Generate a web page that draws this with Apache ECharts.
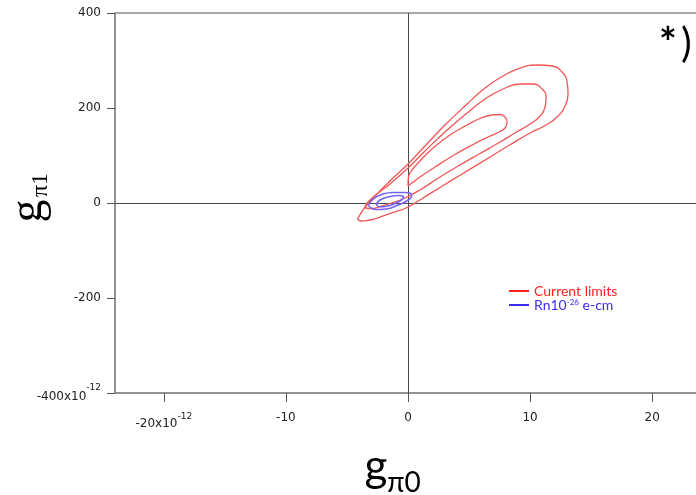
<!DOCTYPE html>
<html>
<head>
<meta charset="utf-8">
<script src="https://cdn.jsdelivr.net/npm/echarts@6/dist/echarts.min.js"></script>
<style>
  html, body { margin: 0; padding: 0; background: #fff; }
  #chart { width: 696px; height: 495px; }
</style>
</head>
<body>
<div id="chart"></div>
<script>
// Allowed regions in the (g_pi0, g_pi1) coupling plane, in units of 1e-12.

const xTicks = [-20, -10, 0, 10, 20];
const yTicks = [-400, -200, 0, 200, 400];

// Present limits: three nested contours, each a closed loop of [g_pi0, g_pi1]
const currentLimitsOuter = [
  [-4.14, -33.7], [-3.85, -21.1], [-3.44, -6.3], [-2.70, 14.7], [-1.48, 46.3],
  [0.00, 82.1], [1.39, 120.0], [3.03, 164.2], [4.84, 208.4], [6.31, 242.1],
  [7.79, 267.4], [9.18, 284.2], [10.66, 290.5], [11.80, 288.4], [12.62, 275.8],
  [13.03, 254.7], [13.11, 229.5], [12.87, 204.2], [12.30, 183.2], [11.31, 164.2],
  [10.00, 147.4], [8.36, 122.5], [6.72, 96.8], [5.08, 71.2], [3.44, 45.5],
  [1.80, 19.8], [0.00, -8.4], [-1.07, -18.9], [-2.30, -29.5], [-3.28, -36.8],
  [-3.85, -37.9], [-4.14, -33.7]
];
const currentLimitsMiddle = [
  [-3.52, -7.4], [-3.20, 4.2], [-2.54, 18.9], [-1.48, 40.0], [0.00, 73.7],
  [1.39, 109.5], [3.03, 149.5], [4.84, 189.5], [6.31, 218.9], [7.79, 240.0],
  [9.18, 250.5], [10.25, 250.5], [10.98, 240.0], [11.31, 223.2], [11.23, 202.1],
  [10.82, 183.2], [10.00, 166.3], [8.77, 147.4], [7.54, 128.4], [5.90, 104.2],
  [4.26, 80.0], [2.62, 54.7], [0.98, 27.4], [-0.25, 10.5], [-1.31, 0.0],
  [-2.30, -7.4], [-2.95, -11.6], [-3.44, -10.5], [-3.52, -7.4]
];
const currentLimitsInner = [
  [0.00, 35.8], [0.02, 50.5], [0.16, 63.2], [0.98, 88.4], [2.05, 115.8],
  [3.44, 143.2], [4.84, 164.2], [5.90, 177.9], [6.89, 185.3], [7.54, 186.3],
  [7.95, 181.1], [8.11, 170.5], [7.95, 157.9], [7.46, 149.5], [6.56, 138.9],
  [5.25, 122.1], [3.85, 102.1], [2.21, 75.8], [0.98, 54.7], [0.16, 38.9],
  [0.00, 35.8]
];

// Projected reach of a radon EDM at the 1e-26 e-cm level
const radonOuter = [
  [-3.25, -5.3], [-2.87, 8.4], [-2.05, 18.9], [-1.23, 22.1], [-0.25, 22.1],
  [0.30, 16.8], [0.08, 7.4], [-0.82, -4.2], [-1.80, -12.6], [-2.62, -13.7],
  [-3.25, -5.3]
];
const radonInner = [
  [-2.62, -3.2], [-2.30, 6.3], [-1.48, 13.7], [-0.74, 15.8], [-0.37, 12.6],
  [-0.66, 4.2], [-1.48, -5.3], [-2.21, -8.4], [-2.62, -3.2]
];

const RED = '#f25555';
const BLUE = '#7462f4';
const LIMITS = 'Current limits';
const RADON = 'Rn10-26 e-cm';

function contour(name, data, color, width) {
  return {
    name: name,
    type: 'line',
    data: data,
    smooth: 0.5,
    symbol: 'none',
    silent: true,
    lineStyle: { color: color, width: width },
    itemStyle: { color: color },
    z: 3
  };
}

const labelFont = { fontFamily: 'DejaVu Sans', fontSize: 12, color: '#222' };

const series = [
  contour(LIMITS, currentLimitsOuter, RED, 1.3),
  contour(LIMITS, currentLimitsMiddle, RED, 1.3),
  contour(LIMITS, currentLimitsInner, RED, 1.3),
  contour(RADON, radonOuter, BLUE, 1.6),
  contour(RADON, radonInner, BLUE, 1.6)
];
// zero lines through the origin
series[0].markLine = {
  silent: true,
  symbol: 'none',
  label: { show: false },
  lineStyle: { color: '#4a4a4a', width: 1, type: 'solid' },
  data: [{ xAxis: 0 }, { yAxis: 0 }],
  z: 2
};

const chart = echarts.init(document.getElementById('chart'), null, { renderer: 'canvas' });
chart.setOption({
  animation: false,
  backgroundColor: '#fff',
  grid: {
    left: 115, top: 13, width: 586, bottom: 102,
    outerBoundsMode: 'none',
    containLabel: false,
    show: true, borderColor: '#8c8c8c', borderWidth: 1.5
  },
  xAxis: {
    type: 'value',
    min: -24, max: 24,
    axisLine: { onZero: false, lineStyle: { color: '#8c8c8c', width: 1.5 } },
    axisTick: { show: true, length: 9, customValues: xTicks, lineStyle: { color: '#555', width: 1 } },
    axisLabel: {
      customValues: xTicks,
      margin: 19,
      ...labelFont,
      formatter: v => v === -20 ? '{b|-20x10}{s|-12}' : String(v),
      rich: {
        b: { ...labelFont, padding: [6, 0, 0, 0] },
        s: { fontFamily: 'DejaVu Sans', fontSize: 9, color: '#222', verticalAlign: 'top' }
      }
    },
    splitLine: { show: false }
  },
  yAxis: {
    type: 'value',
    min: -400, max: 400, interval: 200,
    axisLine: { onZero: false, lineStyle: { color: '#8c8c8c', width: 1.5 } },
    axisTick: { show: true, length: 8, lineStyle: { color: '#555', width: 1 } },
    axisLabel: {
      margin: 14,
      ...labelFont,
      formatter: v => v === -400 ? '{b|-400x10}{s|-12}' : String(v),
      rich: {
        b: { ...labelFont, padding: [8, 0, 0, 0] },
        s: { fontFamily: 'DejaVu Sans', fontSize: 9, color: '#222', verticalAlign: 'top' }
      }
    },
    splitLine: { show: false }
  },
  legend: {
    orient: 'vertical',
    left: 509, top: 284, padding: 0,
    itemWidth: 20, itemHeight: 2, itemGap: 0,
    icon: 'rect',
    selectedMode: false,
    textStyle: { fontFamily: 'Lato', fontSize: 14, lineHeight: 14,
      rich: {
        t: { fontFamily: 'Lato', fontSize: 14, color: '#3a2cf2', lineHeight: 14 },
        s: { fontFamily: 'Lato', fontSize: 8, color: '#3a2cf2', verticalAlign: 'top', lineHeight: 14 }
      }
    },
    formatter: name => name === RADON ? '{t|Rn10}{s|-26}{t| e-cm}' : name,
    data: [
      { name: LIMITS, itemStyle: { color: '#ff2222' }, textStyle: { color: '#ff2222' } },
      { name: RADON, itemStyle: { color: '#3a2cf2' }, textStyle: { color: '#3a2cf2' } }
    ]
  },
  graphic: [
    // vertical axis title g_pi1
    { type: 'text', x: 29, y: 211, rotation: Math.PI / 2, silent: true,
      style: { text: 'g', font: '46px "Liberation Serif"', fill: '#000', align: 'center', verticalAlign: 'middle' } },
    { type: 'text', x: 41, y: 185, rotation: Math.PI / 2, silent: true,
      style: { text: 'π1', font: '24px "Liberation Serif"', fill: '#000', align: 'center', verticalAlign: 'middle' } },
    // horizontal axis title g_pi0
    { type: 'text', x: 376, y: 467, silent: true,
      style: { text: 'g', font: '44px Lato', fill: '#000', align: 'center', verticalAlign: 'middle' } },
    { type: 'text', x: 404, y: 483, silent: true,
      style: { text: 'π0', font: '28px Lato', fill: '#000', align: 'center', verticalAlign: 'middle' } },
    // panel mark "*)"
    { type: 'text', x: 659, y: 44, silent: true,
      style: { text: '*', font: 'bold 42px Lato', fill: '#000', align: 'left', verticalAlign: 'middle' } },
    { type: 'text', x: 681, y: 44, silent: true,
      style: { text: ')', font: '40px Lato', fill: '#000', align: 'left', verticalAlign: 'middle' } }
  ],
  series: series
});
</script>
</body>
</html>
